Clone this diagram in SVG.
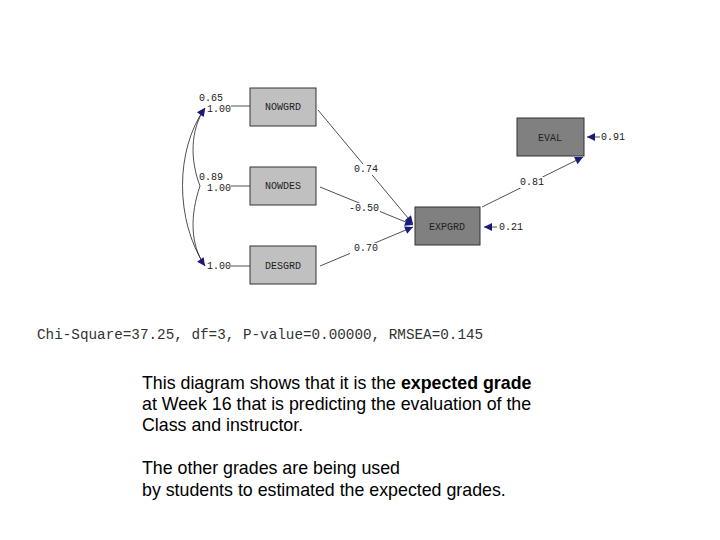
<svg xmlns="http://www.w3.org/2000/svg" width="720" height="540" viewBox="0 0 720 540">
<style>
.box{stroke:#333;stroke-width:1}
.lt{fill:#c0c0c0}.dk{fill:#808080}
.m{font-family:"Liberation Mono",monospace;font-size:10px;fill:#222}
.c{stroke:#223;stroke-width:0.8;fill:none}
.a{marker-end:url(#ar)}
.t{font-family:"Liberation Sans",Arial,sans-serif;font-size:17.8px;fill:#000}
</style>
<defs><marker id="ar" viewBox="0 0 10 10" refX="10" refY="5" markerWidth="11" markerHeight="8" orient="auto" markerUnits="userSpaceOnUse"><path d="M0,0L10,5L0,10z" fill="#1a1a7a"/></marker></defs>
<rect width="720" height="540" fill="#fff"/>
<g id="connectors">
<path class="c a" d="M318,110 L413,224"/>
<path class="c a" d="M320,187 L413,225"/>
<path class="c a" d="M320,266 L413,227"/>
<path class="c a" d="M482,207 L583,157"/>
<path class="c a" d="M600,137 L587,137"/>
<path class="c a" d="M497,227 L484,227"/>
<path class="c" d="M231,106 L250,106 M231,186 L250,186 M231,266 L250,266"/>
<path class="c a" d="M200,186 C190,160 190,130 205,108"/>
<path class="c a" d="M200,186 C190,215 190,245 205,266"/>
<path class="c a" d="M205,266 C175,220 175,150 205,108"/>
<rect x="350" y="164" width="28" height="11" fill="#fff"/>
<rect x="348" y="203" width="32" height="11" fill="#fff"/>
<rect x="350" y="243" width="28" height="11" fill="#fff"/>
<rect x="516" y="177" width="28" height="11" fill="#fff"/>
<text class="m" x="354" y="172">0.74</text>
<text class="m" x="349" y="211">-0.50</text>
<text class="m" x="354" y="251">0.70</text>
<text class="m" x="520" y="185">0.81</text>
<text class="m" x="601" y="140">0.91</text>
<text class="m" x="499" y="230">0.21</text>
<text class="m" x="207" y="112">1.00</text>
<text class="m" x="199" y="101">0.65</text>
<text class="m" x="207" y="191">1.00</text>
<text class="m" x="199" y="180">0.89</text>
<text class="m" x="207" y="269">1.00</text>
</g>
<g id="NOWGRD"><rect class="box lt" x="250" y="88" width="66" height="38"/><text class="m" x="283" y="110" text-anchor="middle">NOWGRD</text></g>
<g id="NOWDES"><rect class="box lt" x="250" y="167" width="66" height="38"/><text class="m" x="283" y="189" text-anchor="middle">NOWDES</text></g>
<g id="DESGRD"><rect class="box lt" x="250" y="246" width="66" height="38"/><text class="m" x="283" y="269" text-anchor="middle">DESGRD</text></g>
<g id="EXPGRD"><rect class="box dk" x="415" y="207" width="65" height="38"/><text class="m" x="447" y="230" text-anchor="middle">EXPGRD</text></g>
<g id="EVAL"><rect class="box dk" x="517" y="118" width="67" height="38"/><text class="m" x="550" y="141" text-anchor="middle">EVAL</text></g>
<text x="37" y="339" font-family="Liberation Mono,monospace" font-size="14.3" fill="#333">Chi-Square=37.25, df=3, P-value=0.00000, RMSEA=0.145</text>
<text class="t" x="142" y="389">This diagram shows that it is the <tspan font-weight="bold">expected grade</tspan></text>
<text class="t" x="142" y="410">at Week 16 that is predicting the evaluation of the</text>
<text class="t" x="142" y="431">Class and instructor.</text>
<text class="t" x="142" y="474">The other grades are being used</text>
<text class="t" x="142" y="496">by students to estimated the expected grades.</text>
</svg>
